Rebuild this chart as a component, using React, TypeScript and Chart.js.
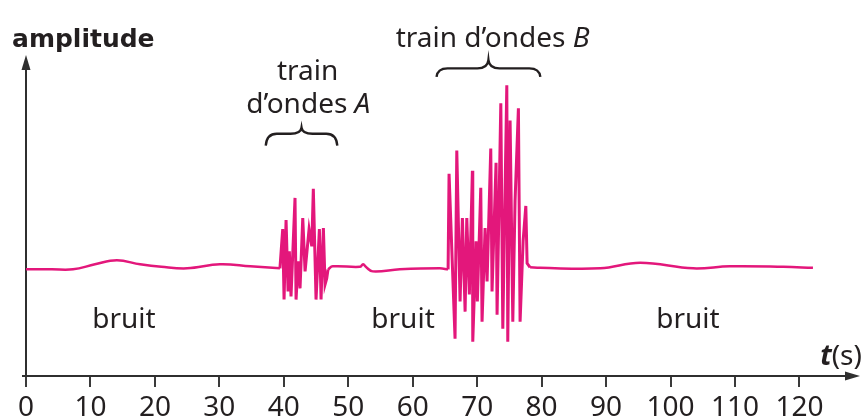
import React, { useEffect, useRef } from "react";
import { Chart, registerables } from "chart.js";

Chart.register(...registerables);

// --- bruit (noise) segments: time (s) and amplitude ---
const NOISE_1_T = [0, 4, 7.3, 10.7, 14.1, 17.7, 21, 25.0, 30.1, 34.8, 39.4];
const NOISE_1_A = [0, 0, 0, 0.5, 0.9, 0.5, 0.25, 0.1, 0.5, 0.3, 0.1];
const NOISE_2_T = [46.86, 47.6, 51.8, 52.3, 52.8, 53.8, 58.0, 64.2, 65.49];
const NOISE_2_A = [0, 0.3, 0.25, 0.5, 0.2, -0.2, 0, 0.1, 0];
const NOISE_3_T = [78.21, 79.8, 89.1, 95.3, 103.5, 109.2, 117.5, 122.1];
const NOISE_3_A = [0.2, 0.15, 0.1, 0.65, 0.1, 0.3, 0.25, 0.15];

// --- train d'ondes A ---
const TRAIN_A_T = [
  39.4, 39.83, 40.04, 40.35, 40.66, 40.86, 41.12, 41.74, 41.9, 42.21, 42.52, 42.94, 43.3,
  43.92, 44.34, 44.58, 45.0, 45.52, 45.78, 46.14, 46.4, 46.66, 46.86,
];
const TRAIN_A_A = [
  0.1, 4.0, -3.0, 4.9, -2.2, 1.8, -2.7, 7.1, -3.0, 0.8, -1.9, 5.1, -0.2,
  4.0, 2.3, 8.0, -3.0, 4.0, -3.0, 4.1, -1.5, -0.9, 0,
];

// --- train d'ondes B ---
const TRAIN_B_T = [
  65.49, 65.64, 66.57, 66.84, 67.35, 67.71, 68.13, 68.39, 68.79, 69.26, 69.32, 69.83,
  70.03, 70.56, 70.76, 71.23, 71.54, 72.11, 72.31, 72.93, 73.09, 73.67, 73.98, 74.6,
  74.75, 75.11, 75.53, 75.88, 76.4, 76.66, 77.13, 77.55, 77.75, 78.21,
];
const TRAIN_B_A = [
  0, 9.5, -6.9, 11.8, -3.2, 5.1, -4.2, 5.1, -2.5, 9.8, -7.2, 2.8,
  -3.2, 8.1, -5.2, 4.1, -1.2, 12.0, -2.2, 10.6, -4.5, 16.5, -5.9, 18.3,
  -7.2, 14.8, -5.2, 6.8, 16.0, -5.2, 2.8, 6.3, 0.6, 0.2,
];

const TICK_VALUES = [0, 10, 20, 30, 40, 50, 60, 70, 80, 90, 100, 110, 120];
const X_MAX = 129.4;
const Y_MIN = -10.6;
const Y_MAX = 21.3;

const NOISE_LABEL = "bruit";
const NOISE_LABEL_T = [15.2, 58.5, 102.7];
const Y_AXIS_TITLE = "amplitude";

const INK = "#231f20";
const SIGNAL = "#e3177b";
const REG = '28px "Noto Sans"';
const ITAL = 'italic 28px "Noto Sans"';

type Pt = { x: number; y: number | null };

function joinSegments(segs: [number[], number[]][]): Pt[] {
  const out: Pt[] = [];
  segs.forEach(([ts, as], k) => {
    if (k > 0) out.push({ x: ts[0] - 0.001, y: null });
    ts.forEach((t, i) => out.push({ x: t, y: as[i] }));
  });
  return out;
}

type Run = { text: string; font: string };

function drawRuns(
  ctx: CanvasRenderingContext2D,
  runs: Run[],
  x: number,
  baseline: number,
  align: "left" | "center" | "right"
) {
  let total = 0;
  const widths = runs.map((r) => {
    ctx.font = r.font;
    const w = ctx.measureText(r.text).width;
    total += w;
    return w;
  });
  let cx = align === "left" ? x : align === "center" ? x - total / 2 : x - total;
  ctx.textAlign = "left";
  ctx.textBaseline = "alphabetic";
  runs.forEach((r, i) => {
    ctx.font = r.font;
    ctx.fillText(r.text, cx, baseline);
    cx += widths[i];
  });
}

function drawBrace(
  ctx: CanvasRenderingContext2D,
  x1: number,
  x2: number,
  yTop: number,
  yMid: number,
  yEnd: number
) {
  const xc = (x1 + x2) / 2;
  const r = Math.min(11, (x2 - x1) / 6);
  ctx.beginPath();
  ctx.moveTo(x1, yEnd);
  ctx.quadraticCurveTo(x1 + 1, yMid, x1 + r, yMid);
  ctx.lineTo(xc - r, yMid);
  ctx.quadraticCurveTo(xc - 1, yMid, xc, yTop);
  ctx.quadraticCurveTo(xc + 1, yMid, xc + r, yMid);
  ctx.lineTo(x2 - r, yMid);
  ctx.quadraticCurveTo(x2 - 1, yMid, x2, yEnd);
  ctx.stroke();
}

const decorations = {
  id: "decorations",
  beforeDatasetsDraw(chart: any) {
    const { ctx, chartArea } = chart;
    const x = chart.scales.x;
    const x0 = x.getPixelForValue(0);
    const yb = chartArea.bottom;
    ctx.save();
    ctx.strokeStyle = "#2f2f2f";
    ctx.fillStyle = "#2f2f2f";
    ctx.lineWidth = 2;
    ctx.beginPath();
    ctx.moveTo(x0 - 4, yb);
    ctx.lineTo(chartArea.right - 8, yb);
    ctx.stroke();
    ctx.beginPath();
    ctx.moveTo(chartArea.right, yb);
    ctx.lineTo(chartArea.right - 15, yb - 4.5);
    ctx.lineTo(chartArea.right - 15, yb + 4.5);
    ctx.closePath();
    ctx.fill();
    ctx.beginPath();
    ctx.moveTo(x0, yb);
    ctx.lineTo(x0, chartArea.top + 8);
    ctx.stroke();
    ctx.beginPath();
    ctx.moveTo(x0, chartArea.top);
    ctx.lineTo(x0 - 4.5, chartArea.top + 15);
    ctx.lineTo(x0 + 4.5, chartArea.top + 15);
    ctx.closePath();
    ctx.fill();
    ctx.restore();
  },
  afterDraw(chart: any) {
    const { ctx } = chart;
    const px = (t: number) => chart.scales.x.getPixelForValue(t);
    const py = (a: number) => chart.scales.y.getPixelForValue(a);
    ctx.save();
    ctx.fillStyle = INK;
    ctx.strokeStyle = INK;

    drawRuns(ctx, [{ text: Y_AXIS_TITLE, font: 'bold 25px "DejaVu Sans"' }], px(-2.17), py(22.1), "left");

    NOISE_LABEL_T.forEach((t) => drawRuns(ctx, [{ text: NOISE_LABEL, font: REG }], px(t), py(-5.87), "center"));

    drawRuns(ctx, [{ text: "train", font: REG }], px(43.7), py(18.8), "center");
    drawRuns(ctx, [{ text: "d\u2019ondes ", font: REG }, { text: "A", font: ITAL }], px(43.8), py(15.5), "center");
    drawRuns(ctx, [{ text: "train d\u2019ondes ", font: REG }, { text: "B", font: ITAL }], px(72.4), py(22.1), "center");

    drawRuns(ctx, [{ text: "t", font: 'italic bold 28px "Noto Sans"' }, { text: "(s)", font: REG }], px(129.7), py(-9.5), "right");

    ctx.lineWidth = 2.4;
    drawBrace(ctx, px(37.2), px(48.3), py(14.07), py(13.47), py(12.3));
    drawBrace(ctx, px(63.7), px(79.8), py(20.8), py(19.97), py(19.13));
    ctx.restore();
  },
};

export default function App() {
  const ref = useRef<HTMLCanvasElement | null>(null);

  useEffect(() => {
    if (!ref.current) return;
    const chart = new Chart(ref.current, {
      type: "line",
      data: {
        datasets: [
          {
            label: "bruit",
            data: joinSegments([
              [NOISE_1_T, NOISE_1_A],
              [NOISE_2_T, NOISE_2_A],
              [NOISE_3_T, NOISE_3_A],
            ]) as any,
            borderColor: SIGNAL,
            borderWidth: 2.5,
            pointRadius: 0,
            fill: false,
            tension: 0.4,
            spanGaps: false,
            clip: false as any,
          },
          {
            label: "trains d'ondes",
            data: joinSegments([
              [TRAIN_A_T, TRAIN_A_A],
              [TRAIN_B_T, TRAIN_B_A],
            ]) as any,
            borderColor: SIGNAL,
            borderWidth: 3,
            pointRadius: 0,
            fill: false,
            tension: 0,
            spanGaps: false,
            borderJoinStyle: "miter",
            clip: false as any,
          },
        ],
      },
      options: {
        responsive: true,
        maintainAspectRatio: false,
        animation: false,
        events: [],
        layout: { padding: { left: 26, right: 5, top: 55, bottom: 0 } },
        plugins: { legend: { display: false }, tooltip: { enabled: false } },
        scales: {
          x: {
            type: "linear",
            min: 0,
            max: X_MAX,
            afterBuildTicks: (axis: any) => {
              axis.ticks = TICK_VALUES.map((v) => ({ value: v }));
            },
            grid: {
              drawOnChartArea: false,
              drawTicks: true,
              tickLength: 11,
              color: "#3a3a3a",
              lineWidth: 2,
            },
            border: { display: false },
            ticks: {
              color: INK,
              font: { family: "Noto Sans", size: 28, lineHeight: 0.82 },
              padding: 10,
              maxRotation: 0,
              autoSkip: false,
            },
          },
          y: { display: false, min: Y_MIN, max: Y_MAX },
        },
      },
      plugins: [decorations],
    });
    return () => chart.destroy();
  }, []);

  return (
    <div
      style={{
        position: "fixed",
        left: 0,
        top: 0,
        width: 865,
        height: 430,
        background: "#fff",
      }}
    >
      <canvas ref={ref} />
    </div>
  );
}
